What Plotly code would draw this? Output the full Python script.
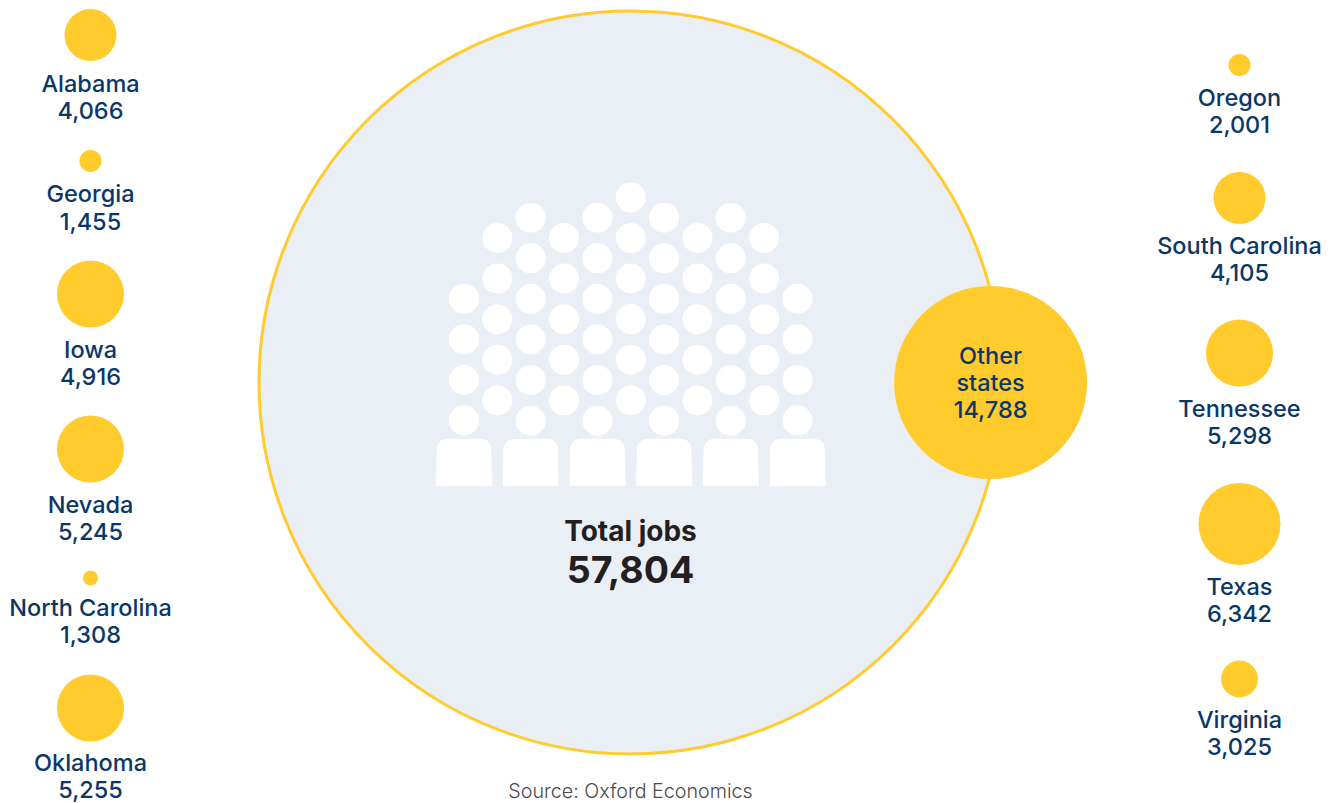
import plotly.graph_objects as go

# Jobs by state
left_states = ["Alabama", "Georgia", "Iowa", "Nevada", "North Carolina", "Oklahoma"]
left_jobs = [4066, 1455, 4916, 5245, 1308, 5255]
right_states = ["Oregon", "South Carolina", "Tennessee", "Texas", "Virginia"]
right_jobs = [2001, 4105, 5298, 6342, 3025]
other_jobs = 14788
total_jobs = 57804

# Page layout, in pixels
WIDTH, HEIGHT = 1334, 803
LEFT_X, RIGHT_X = 90.5, 1239.5
left_bubble_y = [35, 161, 294, 449, 578, 708]
left_name_y = [84, 194, 350, 505, 608, 762.5]
left_value_y = [111, 222, 377, 532, 635, 790]
right_bubble_y = [65, 198, 353, 524, 679]
right_name_y = [98, 246, 409, 587, 720]
right_value_y = [125, 273, 436, 614, 747]
HUB_X, HUB_Y, HUB_D = 630.5, 382.5, 743
OTHER_X, OTHER_D = 990.6, 193

YELLOW = "#FFCB2D"
NAVY = "#0B3768"
INK = "#231F20"
HUB_FILL = "#EAEFF6"
FONT = "Inter"
LABEL_SIZE = 23.5
TEXT_NUDGE = 2.5


def bubble_diameter(value):
    # Stepped size classes
    for limit, diameter in [(1400, 15), (2500, 22), (3500, 37), (4500, 52), (5900, 67)]:
        if value < limit:
            return diameter
    return 82


fig = go.Figure()

# Central ring for the total
fig.add_trace(go.Scatter(
    x=[HUB_X], y=[HUB_Y], mode="markers", cliponaxis=False, hoverinfo="skip",
    marker=dict(size=HUB_D, color=HUB_FILL, opacity=1, line=dict(color=YELLOW, width=3)),
))

# Audience icon: columns of heads above six bodies
STEP_X = 33.35
COL_X0 = 464
ROW_STEP = 40.6
col_tops = [298.7, 238, 217.7, 238, 217.7, 197.3, 217.7, 238, 217.7, 238, 298.7]
col_rows = [4, 5, 6, 5, 6, 6, 6, 5, 6, 5, 4]
head_x, head_y = [], []
for c, (top, rows) in enumerate(zip(col_tops, col_rows)):
    for r in range(rows):
        head_x.append(COL_X0 + c * STEP_X)
        head_y.append(top + r * ROW_STEP)
fig.add_trace(go.Scatter(
    x=head_x, y=head_y, mode="markers", hoverinfo="skip",
    marker=dict(size=30, color="white", opacity=1, line=dict(width=0)),
))

shapes = []
for b in range(6):
    cx = COL_X0 + 2 * b * STEP_X
    t, bot, rad = 438.7, 486, 12
    path = (
        f"M {cx - 28} {bot} L {cx - 27.3} {t + rad} "
        f"Q {cx - 27.3} {t} {cx - 27.3 + rad} {t} "
        f"L {cx + 27.3 - rad} {t} "
        f"Q {cx + 27.3} {t} {cx + 27.3} {t + rad} "
        f"L {cx + 28} {bot} Z"
    )
    shapes.append(dict(type="path", path=path, fillcolor="white", line=dict(width=0), layer="above"))

# Bubbles for each state plus the "other states" slice
bubble_x = [LEFT_X] * len(left_jobs) + [RIGHT_X] * len(right_jobs) + [OTHER_X]
bubble_y = left_bubble_y + right_bubble_y + [HUB_Y]
bubble_d = [bubble_diameter(v) for v in left_jobs + right_jobs] + [OTHER_D]
fig.add_trace(go.Scatter(
    x=bubble_x, y=bubble_y, mode="markers", cliponaxis=False, hoverinfo="skip",
    marker=dict(size=bubble_d, color=YELLOW, opacity=1, line=dict(width=0)),
))


def add_labels(xs, ys, texts, size, color, weight, family=FONT):
    fig.add_trace(go.Scatter(
        x=xs, y=[y + TEXT_NUDGE for y in ys], text=texts, mode="text", textposition="middle center",
        cliponaxis=False, hoverinfo="skip",
        textfont=dict(family=family, size=size, color=color, weight=weight),
    ))


# State names and job counts
names = left_states + right_states
values = left_jobs + right_jobs
label_x = [LEFT_X] * len(left_states) + [RIGHT_X] * len(right_states)
add_labels(label_x, left_name_y + right_name_y, names, LABEL_SIZE, NAVY, 500)
add_labels(label_x, left_value_y + right_value_y, [f"{v:,}" for v in values], LABEL_SIZE, NAVY, 500)

# Text inside the "other states" bubble
add_labels([OTHER_X] * 3, [356, 383, 410], ["Other", "states", f"{other_jobs:,}"], LABEL_SIZE, NAVY, 500)

# Total in the central ring
add_labels([HUB_X], [531], ["Total jobs"], 28, INK, 700)
add_labels([HUB_X], [571.5], [f"{total_jobs:,}"], 37.5, INK, 700)

# Source line
add_labels([HUB_X], [790.5], ["Source: Oxford Economics"], 19.7, "#4A4A4A", 300)

fig.update_layout(
    width=WIDTH, height=HEIGHT, margin=dict(l=0, r=0, t=0, b=0),
    paper_bgcolor="white", plot_bgcolor="white", showlegend=False, shapes=shapes,
    xaxis=dict(range=[0, WIDTH], visible=False, fixedrange=True),
    yaxis=dict(range=[HEIGHT, 0], visible=False, fixedrange=True),
)
fig.write_html("out.html", config={"displayModeBar": False})
